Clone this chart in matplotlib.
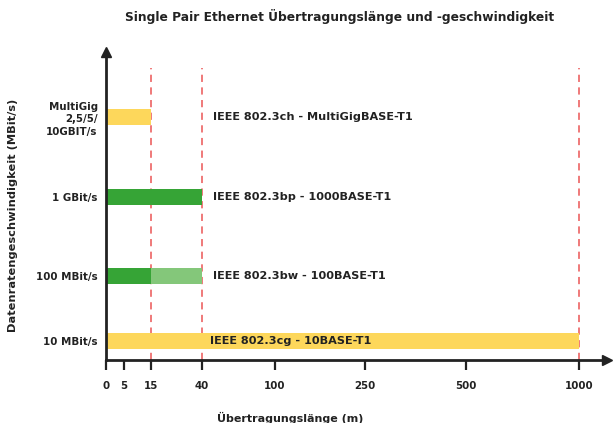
import numpy as np
import matplotlib.pyplot as plt

# data
speeds = ["10 MBit/s", "100 MBit/s", "1 GBit/s", "MultiGig\n2,5/5/\n10GBIT/s"]
standards = ["IEEE 802.3cg - 10BASE-T1", "IEEE 802.3bw - 100BASE-T1",
             "IEEE 802.3bp - 1000BASE-T1", "IEEE 802.3ch - MultiGigBASE-T1"]
reach_main = [1000, 15, 40, 15]
reach_ext = [0, 40, 0, 0]
xticks = [0, 5, 15, 40, 100, 250, 500, 1000]
dashed = [15, 40, 1000]

# layout (pixel-like units)
ypos = [19, 84, 163, 243]
label_x = [104, 107, 107, 107]
knot_val = [0, 5, 15, 40, 100, 250, 500, 1000, 1060]
knot_pos = [0, 18, 45, 96, 169, 259, 360, 473, 501]

yellow = "#fdd75b"
green = "#36a436"
lgreen = "#84c77a"
main_colors = [yellow, green, green, yellow]


def fwd(v):
    return np.interp(v, knot_val, knot_pos)


def inv(p):
    return np.interp(p, knot_pos, knot_val)


fig = plt.figure(figsize=(6.14, 4.23), dpi=100)
ax = fig.add_axes([106 / 614, 63 / 423, 501 / 614, 308 / 423])
ax.set_xscale("function", functions=(fwd, inv))
ax.set_xlim(0, 1060)
ax.set_ylim(0, 308)

for x in dashed:
    ax.axvline(x, ymax=292 / 308, color="#ee6e6e", ls=(0, (4, 3)), lw=1.3, zorder=1)

h = 16
main = np.array(reach_main)
ext = np.array(reach_ext)
has_ext = ext > 0
ax.barh(ypos, main, height=h, color=main_colors, zorder=2)
ax.barh(ypos, (ext - main) * has_ext, left=main * has_ext, height=h, color=lgreen, zorder=2)

for i, s in enumerate(standards):
    ax.text(inv(label_x[i]), ypos[i], s, ha="left", va="center",
            fontsize=8.1, fontweight="bold", color="#222222", zorder=3)

ax.set_yticks(ypos)
ax.set_yticklabels(speeds, fontsize=7.4, fontweight="bold", color="#222222", linespacing=1.3)
ax.tick_params(axis="y", length=0, pad=6)
ax.set_xticks(xticks)
ax.set_xticklabels([str(t) for t in xticks], fontsize=7.4, fontweight="bold", color="#222222")
ax.tick_params(axis="x", direction="out", length=7, width=1.6, pad=8, color="#222222")

for sp in ["top", "right"]:
    ax.spines[sp].set_visible(False)
for sp in ["left", "bottom"]:
    ax.spines[sp].set_linewidth(2)
    ax.spines[sp].set_color("#222222")
ax.plot(1, 0, ">", color="#222222", ms=7, transform=ax.transAxes, clip_on=False)
ax.plot(0, 1, "^", color="#222222", ms=7, transform=ax.transAxes, clip_on=False)

ax.set_xlabel("Übertragungslänge (m)", fontsize=8, fontweight="bold", color="#222222")
ax.xaxis.set_label_coords(184 / 501, -52 / 308)
ax.set_ylabel("Datenratengeschwindigkeit (MBit/s)", fontsize=8.2, fontweight="bold", color="#222222")
ax.yaxis.set_label_coords(-88 / 501, 0.47)

fig.text(340 / 614, 1 - 17 / 423, "Single Pair Ethernet Übertragungslänge und -geschwindigkeit",
         ha="center", va="center", fontsize=8.8, fontweight="bold", color="#222222")

fig.savefig("out.png", dpi=100)
